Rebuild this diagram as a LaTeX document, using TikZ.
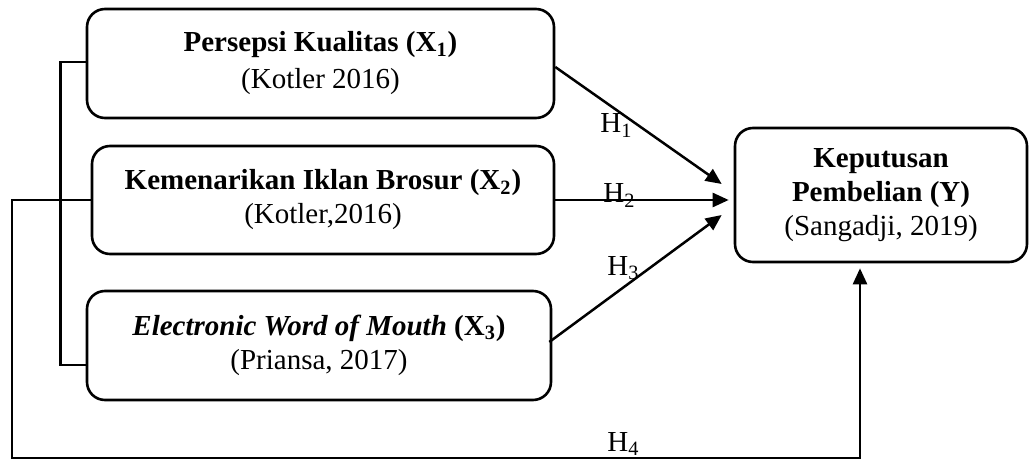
\documentclass[tikz,border=0pt]{standalone}
\usepackage{fontspec}
\setmainfont{Liberation Serif}
\usetikzlibrary{arrows.meta,calc}
\tikzset{
  box/.style={draw, line width=1.3pt, rounded corners=9pt, align=center, inner sep=0pt,
    font=\fontsize{14.5}{17}\selectfont},
  conn/.style={line width=1.25pt},
  arr/.style={conn, -{Triangle[length=8pt,width=7pt]}},
  hlab/.style={font=\fontsize{14.5}{17}\selectfont, inner sep=0pt, anchor=base west},
}
\begin{document}
\begin{tikzpicture}[x=0.5pt,y=-0.5pt]
\useasboundingbox (0,0) rectangle (1029,460);

\node[box, minimum width=233.5pt, minimum height=54.5pt] (b1) at (320.5,63.5)
  {\textbf{Persepsi Kualitas (X\textsubscript{1})}\\[1.5pt](Kotler 2016)};
\node[box, minimum width=231pt, minimum height=54pt] (b2) at (323,200)
  {\textbf{Kemenarikan Iklan Brosur (X\textsubscript{2})}\\(Kotler,2016)};
\node[box, minimum width=232pt, minimum height=54.5pt] (b3) at (319,345.5)
  {\textbf{\textit{Electronic Word of Mouth}} \textbf{(X\textsubscript{3})}\\(Priansa, 2017)};
\node[box, minimum width=146pt, minimum height=67pt] (y) at (881,195)
  {\textbf{Keputusan}\\\textbf{Pembelian (Y)}\\(Sangadji, 2019)};

% bracket grouping X1..X3
\draw[conn] ([yshift=0.75pt]b1.west) -- ++(-25,0) |- ([yshift=-9.75pt]b3.west);

% hypotheses arrows
\draw[arr] ([yshift=-1.75pt]b1.east) -- ($(y.west)+(-12,-11)$);
\draw[arr] (b2.east) -- ($(y.west)+(-5,5)$);
\draw[arr] ([xshift=-1.5pt,yshift=1.75pt]b3.east) -- ($(y.west)+(-12,20)$);

% simultaneous path H4
\coordinate (h4end) at ([xshift=-10.5pt,yshift=-2.5pt]y.south);
\draw[arr] (b2.west) -- (12,200) |- (h4end |- 0,458) -- (h4end);

% labels
\node[hlab] (h1) at (600,133) {H\textsubscript{1}};
\node[hlab] (h2) at (603,203) {H\textsubscript{2}};
\node[hlab] (h3) at (607,275) {H\textsubscript{3}};
\node[hlab] (h4) at (607,451) {H\textsubscript{4}};
\end{tikzpicture}
\end{document}
